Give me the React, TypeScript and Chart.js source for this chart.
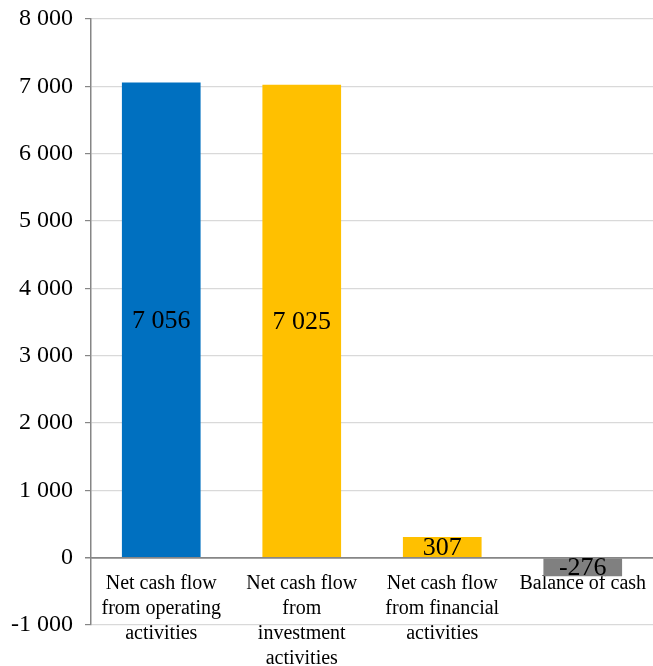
import React, { useEffect, useRef } from 'react';
import { Chart, registerables } from 'chart.js';

Chart.register(...registerables);

const categories: string[][] = [
  ['Net cash flow', 'from operating', 'activities'],
  ['Net cash flow', 'from', 'investment', 'activities'],
  ['Net cash flow', 'from financial', 'activities'],
  ['Balance of cash'],
];
const values: number[] = [7056, 7025, 307, -276];
const barColors: string[] = ['#0070C0', '#FFC000', '#FFC000', '#808080'];
const yMin = -1000;
const yMax = 8000;
const yStep = 1000;

const FONT = '"Liberation Serif", "Times New Roman", serif';

function fmt(v: number): string {
  const s = Math.abs(Math.round(v)).toString().replace(/\B(?=(\d{3})+(?!\d))/g, ' ');
  return (v < 0 ? '-' : '') + s;
}

const labelPlugin = {
  id: 'barLabels',
  afterDatasetsDraw(chart: any) {
    const ctx = chart.ctx;
    const meta = chart.getDatasetMeta(0);
    ctx.save();
    ctx.font = `26px ${FONT}`;
    ctx.fillStyle = '#000';
    ctx.textAlign = 'center';
    ctx.textBaseline = 'middle';
    meta.data.forEach((el: any, i: number) => {
      const p = el.getProps(['x', 'y', 'base'], true);
      ctx.fillText(fmt(values[i]), p.x, (p.y + p.base) / 2 + 1);
    });
    ctx.restore();
  },
};

export default function App() {
  const ref = useRef<HTMLCanvasElement | null>(null);
  useEffect(() => {
    if (!ref.current) return;
    const chart = new Chart(ref.current, {
      type: 'bar',
      data: {
        labels: categories as any,
        datasets: [
          {
            data: values,
            backgroundColor: barColors,
            borderWidth: 0,
            barPercentage: 0.56,
            categoryPercentage: 1,
          },
        ],
      },
      options: {
        responsive: false,
        animation: false,
        layout: { padding: { top: 19, right: 0, bottom: 41, left: 0 } },
        plugins: {
          legend: { display: false },
          tooltip: { enabled: false },
        },
        scales: {
          x: {
            position: { y: 0 } as any,
            grid: { display: false },
            border: { display: true, color: '#868686', width: 1.5 },
            ticks: {
              color: '#000',
              font: { family: FONT, size: 20, lineHeight: 1.25 },
              padding: 6,
              maxRotation: 0,
              autoSkip: false,
            },
            afterFit(scale: any) {
              scale.height = 0;
              scale.paddingLeft = 0;
              scale.paddingRight = 0;
              scale.paddingTop = 0;
              scale.paddingBottom = 0;
            },
          },
          y: {
            min: yMin,
            max: yMax,
            ticks: {
              stepSize: yStep,
              color: '#000',
              font: { family: FONT, size: 24 },
              padding: 12,
              callback: (v: any) => fmt(Number(v)),
            },
            grid: {
              color: (c: any) => (c.tick && c.tick.value === 0 ? '#868686' : '#d9d9d9'),
              lineWidth: (c: any) => (c.tick && c.tick.value === 0 ? 1.5 : 1.2),
              tickLength: 6,
              tickColor: '#868686',
            },
            border: { display: true, color: '#868686', width: 1.5 },
            afterFit(scale: any) {
              scale.width = 91;
              scale.paddingTop = 0;
              scale.paddingBottom = 0;
            },
          },
        },
      },
      plugins: [labelPlugin],
    });
    return () => chart.destroy();
  }, []);
  return (
    <div style={{ position: 'absolute', left: 0, top: 0, width: 653, height: 666 }}>
      <canvas ref={ref} width={653} height={666} style={{ display: 'block' }} />
    </div>
  );
}
